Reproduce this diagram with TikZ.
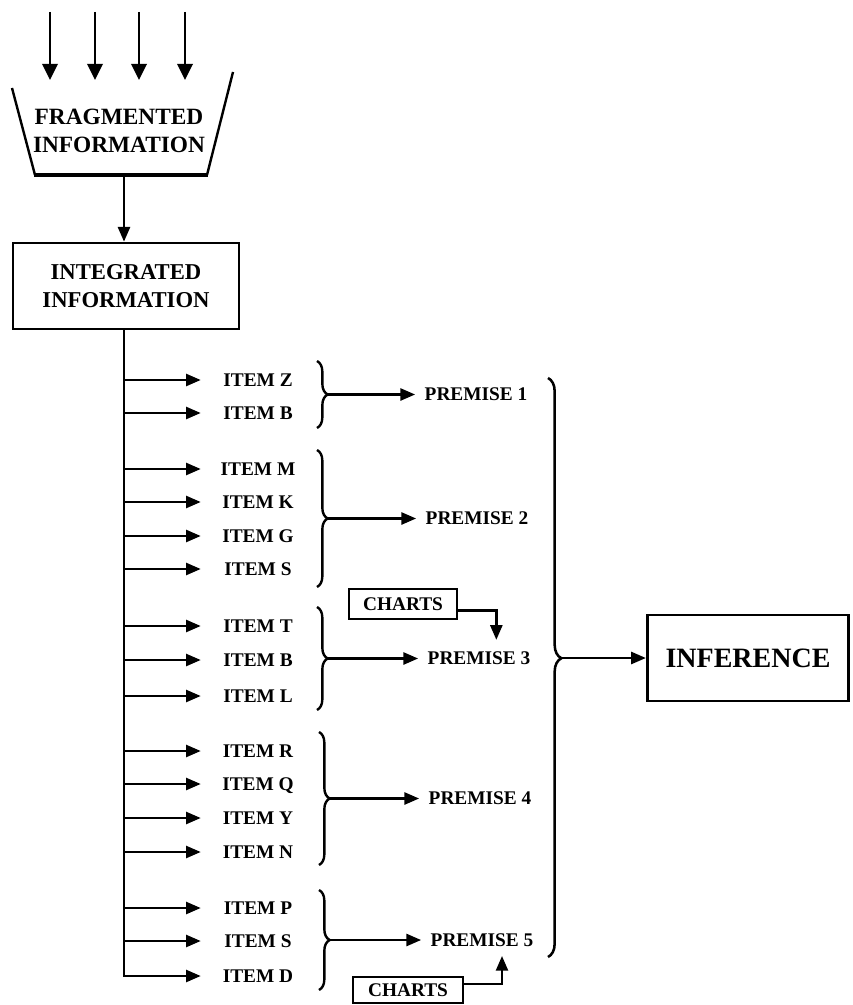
\documentclass[tikz,border=0pt]{standalone}
\usepackage{fontspec}
\setmainfont{Liberation Serif}
\usetikzlibrary{arrows.meta,decorations.pathreplacing,calc}
\begin{document}
\begin{tikzpicture}[x=0.75pt,y=-0.75pt,
  ln/.style={line width=1.8pt},
  arr/.style={ln,-{Triangle[length=11pt,width=9pt]}},
  bigarr/.style={ln,-{Triangle[length=12pt,width=11.5pt]}},
  box/.style={draw,line width=2pt,inner sep=0pt,align=center},
  itemtxt/.style={font=\fontsize{14.5}{16}\selectfont\bfseries,minimum width=85.5pt,inner sep=0pt,text height=9.6pt,text depth=0pt},
  prem/.style={font=\fontsize{14.5}{16}\selectfont\bfseries,inner xsep=7pt,inner ysep=2pt,text height=9.6pt,text depth=0pt},
  grpbrace/.style={line width=1.8pt,decorate,decoration={brace,amplitude=8pt}},
  bigbrace/.style={line width=1.9pt,decorate,decoration={brace,amplitude=10pt,aspect=0.484}},
]
\useasboundingbox (0,0) rectangle (852,1005);

% input arrows
\foreach \x [count=\i] in {50,95,139,185} {
  \coordinate (ins\i) at (\x,12);
  \coordinate (ine\i) at (\x,80);
  \draw[bigarr] (ins\i) -- (ine\i);
}

% funnel
\draw[line width=1.8pt] (12,88) -- (35,175);
\draw[line width=1.8pt] (233,72) -- (207,175);
\draw[line width=2.6pt] (34,175) -- (208,175);
\node[align=center,font=\fontsize{17.5}{20.5}\selectfont\bfseries] (frag) at (119,131) {FRAGMENTED\\INFORMATION};
\coordinate (fragbot) at (124,175);

% integrated box
\node[box,minimum width=169.5pt,minimum height=64.5pt,font=\fontsize{17}{20.5}\selectfont\bfseries] (integ) at (126,286) {INTEGRATED\\INFORMATION};
\draw[arr] (fragbot) -- (fragbot |- integ.north);

% items
\foreach \n/\y/\t in {iZ/380/ITEM Z, iBa/413/ITEM B, iM/469/ITEM M, iK/502/ITEM K, iG/536/ITEM G, iSa/569/ITEM S,
  iT/626/ITEM T, iBb/660/ITEM B, iL/696/ITEM L, iR/751/ITEM R, iQ/784/ITEM Q, iY/818/ITEM Y, iN/852/ITEM N,
  iP/908/ITEM P, iSb/941/ITEM S} {
  \node[itemtxt] (\n) at (258,\y) {\t};
  \coordinate (t\n) at (124,\y);
  \draw[arr] (t\n) -- (\n.west);
}
\node[itemtxt] (iD) at (258,976) {ITEM D};
\coordinate (tiD) at (124,976);
\draw[arr] (fragbot |- integ.south) -- (tiD) -- (iD.west);

% group braces
\draw[grpbrace] (317,361) -- (317,428);
\coordinate (b1) at (328,394.5);
\draw[grpbrace] (317,450) -- (317,587);
\coordinate (b2) at (328,518.5);
\draw[grpbrace] (317,607) -- (317,710);
\coordinate (b3) at (328,658.5);
\draw[grpbrace] (319,732) -- (319,865);
\coordinate (b4) at (330,798.5);
\draw[grpbrace] (319,890) -- (319,990);
\coordinate (b5) at (330,940);

% premises
\node[prem] (p1) at (476,394.5) {PREMISE 1};
\node[prem] (p2) at (477,518.5) {PREMISE 2};
\node[prem] (p3) at (479,658.5) {PREMISE 3};
\node[prem] (p4) at (480,798.5) {PREMISE 4};
\node[prem] (p5) at (482,940) {PREMISE 5};
\draw[arr] (b1) -- (p1.west);
\draw[arr] (b2) -- (p2.west);
\draw[arr] (b3) -- (p3.west);
\draw[arr] (b4) -- (p4.west);
\draw[arr] (b5) -- (p5.west);

% charts
\node[box,font=\fontsize{14.5}{16}\selectfont\bfseries,minimum width=81pt,minimum height=22.5pt] (c1) at (403,604) {CHARTS};
\draw[arr] ([yshift=-5pt]c1.east) -| ([xshift=13pt,yshift=7pt]p3.north);
\node[box,font=\fontsize{14.5}{16}\selectfont\bfseries,minimum width=82.5pt,minimum height=19.5pt] (c2) at (408,990) {CHARTS};
\draw[arr] ([yshift=4.5pt]c2.east) -| ([xshift=15pt,yshift=-5pt]p5.south);

% big brace and inference
\draw[bigbrace] (548,378) -- (548,957);
\coordinate (bb) at (561,658);
\node[box,line width=2.2pt,font=\fontsize{21}{24}\selectfont\bfseries,minimum width=151pt,minimum height=64.5pt] (inf) at (748,658) {INFERENCE};
\draw[arr] (bb) -- (inf.west);
\end{tikzpicture}
\end{document}
